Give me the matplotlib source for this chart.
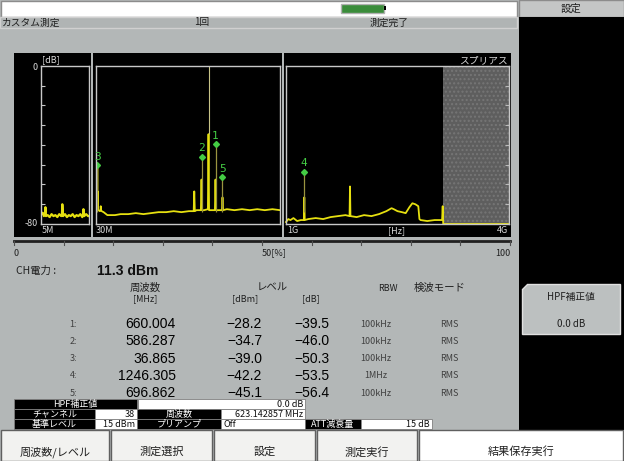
import matplotlib
matplotlib.use('Agg')
import matplotlib.pyplot as plt
from matplotlib.patches import Rectangle, Polygon

plt.rcParams['font.family'] = ['Noto Sans CJK JP', 'DejaVu Sans']

# spurious peak table
peak_no = ['1:', '2:', '3:', '4:', '5:']
peak_freq = [660.004, 586.287, 36.865, 1246.305, 696.862]
peak_dbm = [-28.2, -34.7, -39.0, -42.2, -45.1]
peak_db = [-39.5, -46.0, -50.3, -53.5, -56.4]
peak_rbw = ['100kHz', '100kHz', '100kHz', '1MHz', '100kHz']
peak_det = ['RMS', 'RMS', 'RMS', 'RMS', 'RMS']
ch_power = 11.3

# carrier
carrier_freq = 623.142857
carrier_trace_db = -34.5

# trace, 5M - 30M
a_f = [5, 5.5, 6, 6.5, 7, 7.3, 7.6, 8.5, 9.5, 10.5, 11.5, 12.5, 13.5, 14.5, 15.5, 15.9, 16.1, 16.5,
       17.5, 18.5, 19.5, 20.5, 21.5, 22.5, 23.5, 24.5, 25.5, 26.5, 26.9, 27.1, 27.5, 28.5, 29.5, 30]
a_db = [-73.5, -75, -74.5, -76, -75, -71.5, -76, -75.5, -76.5, -75, -76, -75.5, -76.5, -75, -76, -75.5,
        -70, -76, -75, -76.5, -75.5, -76, -75, -76.5, -75.5, -76, -75, -76.5, -75.5, -72.5, -76, -75,
        -76, -76]

# trace, 30M - 1G (yellow part of the spikes)
b_f = [30, 36.0, 36.865, 37.8, 38.5, 39.3, 44, 50, 54, 55, 56, 60, 70, 90, 110, 130, 160, 200, 240, 280,
       320, 360, 400, 440, 480, 520, 545, 548, 551, 560, 583, 586.287, 589, 600, 620, 623.14, 626, 640,
       657, 660.004, 663, 680, 694, 696.862, 700, 720, 760, 800, 840, 880, 920, 960, 1000]
b_db = [-73, -73, -50.3, -73, -63.5, -73, -73, -73.5, -73, -71, -73, -73.5, -74, -75.5, -75.5, -75.5,
        -75, -75, -74.5, -75, -74.5, -74, -74, -73.5, -74, -73.5, -73.5, -63.5, -73.5, -73, -73, -57.5,
        -73, -73, -72.5, carrier_trace_db, -73, -73, -73, -57.5, -73, -73, -73, -66.5, -73, -72.5, -73,
        -72.5, -73, -72.5, -73, -72.5, -73]

# trace, 1G - 4G
c_f = [1000, 1030, 1060, 1100, 1150, 1200, 1240, 1246.3, 1252, 1300, 1400, 1500, 1600, 1700, 1800,
       1855, 1861, 1867, 1950, 2050, 2150, 2250, 2350, 2420, 2450, 2500, 2560, 2610, 2660, 2700, 2740,
       2780, 2795, 2810, 2900, 3000, 3100, 3108, 3115, 4000]
c_db = [-79, -77.5, -78, -77, -78.5, -78, -78, -66.5, -78, -77.5, -77, -77.5, -76.5, -76, -75.5, -76,
        -61, -76, -76.5, -75.5, -76, -75, -73.5, -72, -72.5, -73.5, -74, -74.5, -71.5, -69.5, -70,
        -71, -77.5, -78, -78.5, -78, -78, -71, -80, -80]

blocked_from = 3112

W, H = 624, 461
GREY = '#b3b7b7'
YEL = '#e6e010'
OLIVE = '#9a9440'
GREEN = '#44cc44'
FRAME = '#c8c8c8'
NUM = 'Liberation Sans'

fig = plt.figure(figsize=(W / 100, H / 100), dpi=100)
ax = fig.add_axes([0, 0, 1, 1])
ax.set_xlim(0, W)
ax.set_ylim(H, 0)
ax.axis('off')


def box(x0, y0, x1, y1, fc, ec='none', lw=1, z=1):
    ax.add_patch(Rectangle((x0, y0), x1 - x0, y1 - y0, facecolor=fc, edgecolor=ec, lw=lw, zorder=z))


def txt(x, y, s, size=7, ha='left', color='#202020', **kw):
    ax.text(x, y, s, fontsize=size, ha=ha, va='center', color=color, **kw)


# backgrounds
box(0, 0, W, H, GREY)
box(1, 1, 517, 17, 'white', '#8c8c8c')
box(519, 0, W, 17, '#c4c6c6', '#8c8c8c')
txt(571, 8.5, '設定', 7.5, 'center')
box(519, 17, W, 430, 'black')
box(0, 17, 517, 28, '#b0b4b4', '#d0d0d0')
box(341, 4, 384, 13, '#3a8c3a', '#b0b0b0')
box(384, 6.5, 386, 10.5, 'black')
txt(2, 22.5, 'カスタム測定', 7)
txt(194, 22.5, '1回', 7)
txt(370, 22.5, '測定完了', 7)

# black panels behind the plots
box(14, 53, 91, 237, 'black')
box(93, 53, 282, 237, 'black')
box(284, 53, 511, 237, 'black')


def panel(x0, y0, x1, y1, xlim):
    p = fig.add_axes([x0 / W, 1 - y1 / H, (x1 - x0) / W, (y1 - y0) / H])
    p.set_facecolor('black')
    p.set_xlim(*xlim)
    p.set_ylim(-80, 0)
    p.set_xticks([])
    p.set_yticks([])
    for s in p.spines.values():
        s.set_color(FRAME)
        s.set_linewidth(1)
    return p


pa = panel(41, 66, 89, 224, (5, 30))
pb = panel(96, 66, 280, 224, (30, 1000))
pc = panel(286, 66, 509, 224, (1000, 4000))

pa.set_yticks(range(-70, 0, 10))
pa.tick_params(axis='y', direction='in', length=3, color=FRAME, labelleft=False)

pc.axvspan(blocked_from, 4000, facecolor='#5e5e5e', edgecolor='#767676', hatch='....', lw=0)
pc.set_yticks(range(-70, 0, 10))
pc.tick_params(axis='y', direction='in', length=3, color='#bbbbbb', left=False, right=True,
               labelleft=False)

pa.plot(a_f, a_db, color=YEL, lw=1.6)
pb.plot(b_f, b_db, color=YEL, lw=1.3)
pc.plot(c_f, c_db, color=YEL, lw=1.3, clip_on=False)
pb.vlines(carrier_freq, carrier_trace_db, 0, color='#c8c488', lw=0.8)

for i, (f, d) in enumerate(zip(peak_freq, peak_db)):
    p = pb if f < 1000 else pc
    p.vlines(f, -74, d, color=OLIVE, lw=0.9)
    p.plot([f], [d], marker='D', ms=3, color=GREEN)
    p.annotate(peak_no[i][0], (f, d), xytext=(0, 2.5), textcoords='offset points',
               ha='center', va='bottom', color=GREEN, fontsize=8, family='DejaVu Sans Mono')

# panel labels
txt(42, 60, '[dB]', 6.5, color='#d8d8d8')
txt(38, 67, '0', 6.5, 'right', color='#d8d8d8')
txt(38, 223, '-80', 6.5, 'right', color='#d8d8d8')
txt(42, 230.5, '5M', 6.5, color='#d8d8d8')
txt(96, 230.5, '30M', 6.5, color='#d8d8d8')
txt(287, 230.5, '1G', 6.5, color='#d8d8d8')
txt(397, 230.5, '[Hz]', 6.5, 'center', color='#d8d8d8')
txt(508, 230.5, '4G', 6.5, 'right', color='#d8d8d8')
txt(508, 60, 'スプリアス', 7, 'right', color='#d8d8d8')

# occupancy scale
ax.plot([14, 510], [241, 241], color='#202020', lw=2)
for k in range(11):
    xk = 14 + k * 49.6
    ax.plot([xk, xk], [241, 245], color='#505050', lw=0.8)
txt(14, 253, '0', 6.5)
txt(262, 253, '50[%]', 6.5)
txt(510, 253, '100', 6.5, 'right')

txt(16, 271, 'CH電力 :', 7.5)
ax.text(97, 271, f'{ch_power} dBm', fontsize=10, ha='left', va='center', color='#101010',
        family=NUM, weight='bold')

# peak table
txt(145, 288, '周波数', 7.5, 'center')
txt(145, 298.5, '[MHz]', 6.5, 'center')
txt(272, 288, 'レベル', 7.5, 'center')
txt(245, 298.5, '[dBm]', 6.5, 'center')
txt(311, 298.5, '[dB]', 6.5, 'center')
txt(388, 288, 'RBW', 6.5, 'center')
txt(440, 288, '検波モード', 7.5, 'center')

for i in range(len(peak_no)):
    y = 324 + i * 17.3
    txt(77, y, peak_no[i], 6.5, 'right', color='#404040')
    ax.text(176, y, f'{peak_freq[i]:.3f}', fontsize=10, ha='right', va='center', color='#000000',
            family=NUM)
    ax.text(262, y, f'{peak_dbm[i]:.1f}'.replace('-', '\u2212'), fontsize=10, ha='right',
            va='center', color='#000000', family=NUM)
    ax.text(329, y, f'{peak_db[i]:.1f}'.replace('-', '\u2212'), fontsize=10, ha='right',
            va='center', color='#000000', family=NUM)
    txt(376, y, peak_rbw[i], 6.5, 'center', color='#404040')
    txt(449, y, peak_det[i], 6.5, 'center', color='#404040')

# settings table
rows = [
    [(14, 137, 'black', 'HPF補正値', 'center'), (138, 305, 'white', '0.0 dB', 'right')],
    [(14, 95, 'black', 'チャンネル', 'center'), (95, 137, 'white', '38', 'right'),
     (137, 221, 'black', '周波数', 'center'), (221, 305, 'white', '623.142857 MHz', 'right')],
    [(14, 95, 'black', '基準レベル', 'center'), (95, 137, 'white', '15 dBm', 'right'),
     (137, 221, 'black', 'プリアンプ', 'center'), (221, 305, 'white', 'Off', 'left'),
     (305, 361, 'black', 'ATT減衰量', 'center'), (361, 432, 'white', '15 dB', 'right')],
]
for r, cells in enumerate(rows):
    y0 = 399 + r * 10
    for x0, x1, fc, s, ha in cells:
        box(x0, y0, x1, y0 + 10, fc, '#808080', 0.6)
        tc = 'white' if fc == 'black' else '#101010'
        tx = {'center': (x0 + x1) / 2, 'right': x1 - 2, 'left': x0 + 2}[ha]
        txt(tx, y0 + 5, s, 6.5, ha, color=tc)

# soft key on the right
key = Polygon([(527, 284), (620, 284), (620, 334), (522, 334), (522, 289)], closed=True,
              facecolor='#bcc0c0', edgecolor='#e0e0e0', lw=1)
ax.add_patch(key)
txt(571, 297, 'HPF補正値', 7, 'center')
txt(571, 324, '0.0 dB', 7, 'center')

# function keys
fkeys = ['周波数/レベル', '測定選択', '設定', '測定実行', '結果保存実行']
edges = [0, 110, 213, 316, 418, 624]
for k, label in enumerate(fkeys):
    fc = 'white' if k == 4 else '#f2f2f0'
    box(edges[k] + 1, 430, edges[k + 1] - 1, 461, fc, '#606060', 1)
    txt((edges[k] + edges[k + 1]) / 2, 452, label, 8, 'center')

fig.savefig('out.png', dpi=100, facecolor=GREY)
